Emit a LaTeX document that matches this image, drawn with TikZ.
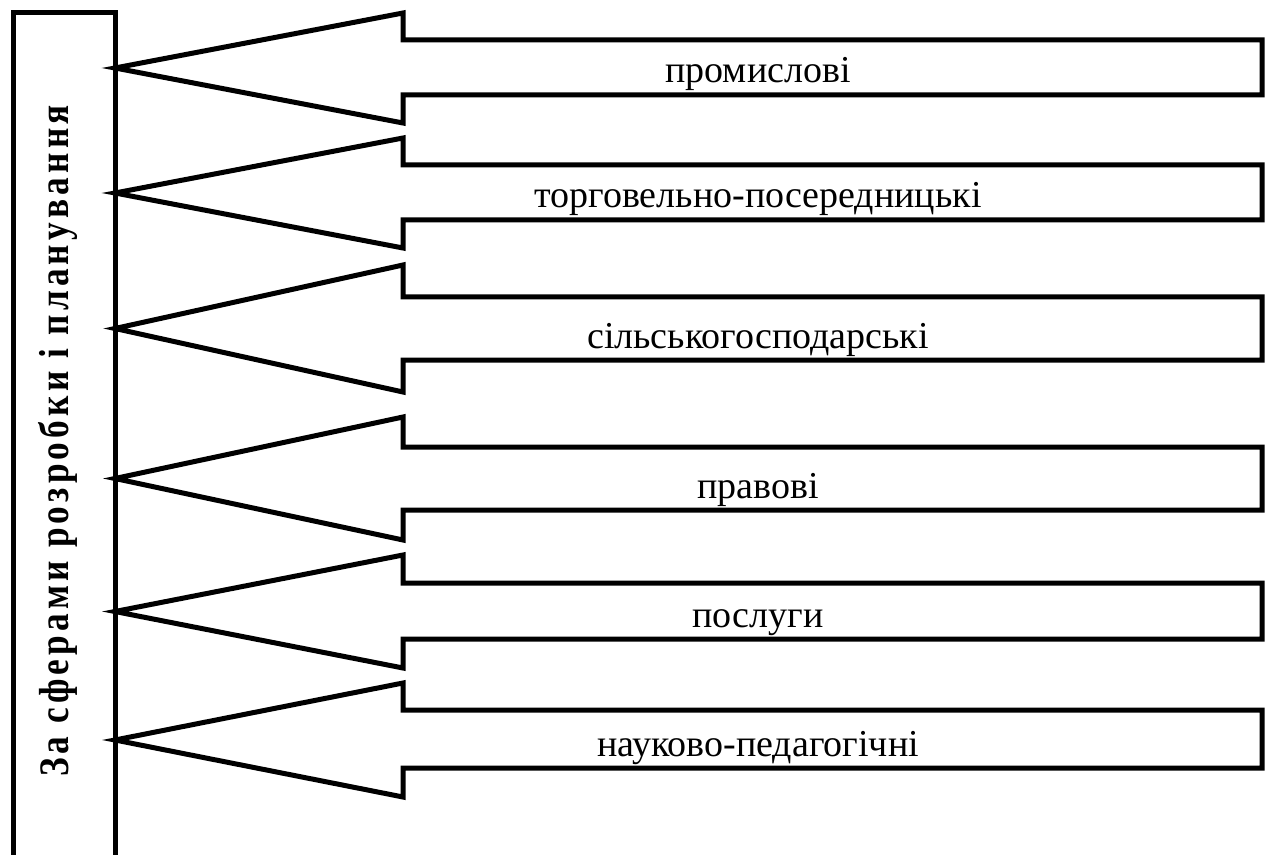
\documentclass[tikz,border=0pt]{standalone}
\usepackage{fontspec}
\setmainfont{Liberation Serif}
\usepackage{tikz}
\usetikzlibrary{positioning, calc}

\tikzset{
  frame/.style={line width=2.5pt, line join=miter, miter limit=20},
  branch/.style={frame, fill=white},
  branchtext/.style={anchor=base, inner sep=0pt, font=\fontsize{19}{22}\selectfont},
  sidetext/.style={rotate=90, xscale=0.84, anchor=base, inner sep=0pt, font=\fontsize{21}{24}\selectfont\bfseries\addfontfeatures{LetterSpace=12}}
}

\begin{document}
\begin{tikzpicture}[x=0.5pt, y=-0.5pt]
  \useasboundingbox (0,0) rectangle (1272,855);
  \clip (0,0) rectangle (1272,855);

  % left column
  \draw[frame] (13,880) -- (13,13) -- (115,13) -- (115,880);
  \node[sidetext] (side) at (68,441) {За сферами розробки і планування};

  % branches: head top / body top / body bottom / head bottom
  \foreach \ht/\bt/\bb/\hb/\lbl [count=\i] in {
      13/40/95/123/промислові,
      138/165/220/248/торговельно-посередницькі,
      265/297/360/392/сільськогосподарські,
      417/447/510/540/правові,
      555/583/639/668/послуги,
      683/710/768/797/науково-педагогічні} {
    \coordinate (tip\i) at (115,{(\ht+\hb)/2});
    \draw[branch] (tip\i) -- (403,\ht) -- (403,\bt) -- (1262,\bt)
      -- (1262,\bb) -- (403,\bb) -- (403,\hb) -- cycle;
    \node[branchtext] (lbl\i) at (758,\bb-12) {\lbl};
  }
\end{tikzpicture}
\end{document}
